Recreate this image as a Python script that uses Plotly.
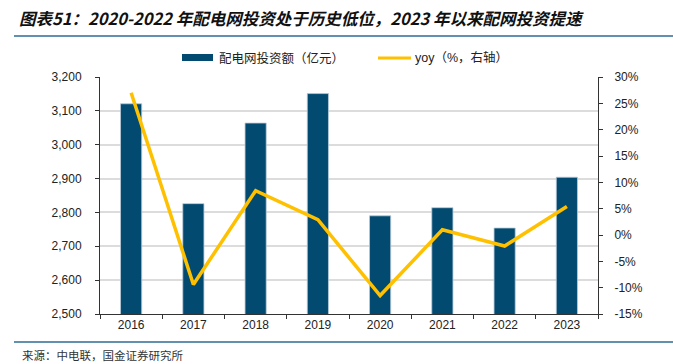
import plotly.graph_objects as go

years = ["2016", "2017", "2018", "2019", "2020", "2021", "2022", "2023"]
invest = [3121, 2826, 3064, 3151, 2790, 2814, 2754, 2904]
yoy = [27.0, -9.4, 8.4, 2.9, -11.5, 1.0, -2.1, 5.4]
left_ticks = [2500, 2600, 2700, 2800, 2900, 3000, 3100, 3200]
right_ticks = [-15, -10, -5, 0, 5, 10, 15, 20, 25, 30]
right_labels = [f"{v}%" for v in right_ticks]
left_labels = [f"{v:,}" for v in left_ticks]

BLUE = "#024a70"
GOLD = "#ffc000"
TXT = "#222222"
FONT = "Liberation Sans, Arial, Noto Sans CJK SC"
CJK = "Noto Sans CJK SC"

# plot area in pixels: x 100..598, y 77..314
L, R, T, B = 100, 598, 77, 314
W, H = R - L, B - T


def px(x):
    return (x - L) / W


def py(y):
    return (B - y) / H


fig = go.Figure()
fig.add_trace(go.Bar(
    x=years, y=invest, name="配电网投资额（亿元）",
    marker=dict(color=BLUE, line=dict(color="#b7cad8", width=0.8)),
    width=0.34, yaxis="y", showlegend=False,
))
fig.add_trace(go.Scatter(
    x=years, y=yoy, name="yoy（%，右轴）", mode="lines",
    line=dict(color=GOLD, width=3.5), yaxis="y2", showlegend=False,
))

fig.update_layout(
    width=673, height=364,
    margin=dict(l=L, r=673 - R, t=T, b=364 - B),
    paper_bgcolor="white", plot_bgcolor="white",
    font=dict(family=FONT, size=12, color=TXT),
    showlegend=False,
    title=dict(
        text="图表51：2020-2022 年配电网投资处于历史低位，2023 年以来配网投资提速",
        x=19 / 673, xanchor="left", y=1 - 19 / 364, yanchor="middle",
        font=dict(family=CJK, size=16.5, color="#111111", weight="bold", style="italic"),
    ),
    xaxis=dict(
        type="category", showline=True, linecolor="#333333", linewidth=1,
        ticks="outside", tickson="boundaries", ticklen=4, tickcolor="#333333",
        showgrid=False, tickfont=dict(size=12, color=TXT),
    ),
    yaxis=dict(
        range=[2500, 3200], tickvals=left_ticks, ticktext=left_labels,
        showline=True, linecolor="#333333", linewidth=1,
        ticks="outside", ticklen=4, tickcolor="#333333",
        showgrid=True, gridcolor="#dcdcdc", gridwidth=1.5, zeroline=False,
        tickfont=dict(size=12, color=TXT), ticklabelstandoff=11,
    ),
    yaxis2=dict(
        range=[-15, 30], tickvals=right_ticks, ticktext=right_labels,
        overlaying="y", side="right",
        showline=True, linecolor="#333333", linewidth=1,
        ticks="outside", ticklen=4, tickcolor="#333333",
        showgrid=False, zeroline=False,
        tickfont=dict(size=12, color=TXT), ticklabelstandoff=9,
    ),
    shapes=[
        dict(type="line", xref="paper", yref="paper", x0=px(14), x1=px(673),
             y0=py(36), y1=py(36), line=dict(color="#2e6d96", width=1.5)),
        dict(type="line", xref="paper", yref="paper", x0=px(14), x1=px(673),
             y0=py(342), y1=py(342), line=dict(color="#2e6d96", width=1.5)),
        # legend symbols
        dict(type="rect", xref="paper", yref="paper", x0=px(182), x1=px(213),
             y0=py(61), y1=py(54), fillcolor=BLUE, line=dict(width=0)),
        dict(type="line", xref="paper", yref="paper", x0=px(378), x1=px(411),
             y0=py(58), y1=py(58), line=dict(color=GOLD, width=3)),
    ],
    annotations=[
        dict(text="配电网投资额（亿元）", xref="paper", yref="paper",
             x=px(217), y=py(57.5), xanchor="left", yanchor="middle", showarrow=False,
             font=dict(family=CJK, size=12.5, color=TXT)),
        dict(text="yoy（%，右轴）", xref="paper", yref="paper",
             x=px(413), y=py(57.5), xanchor="left", yanchor="middle", showarrow=False,
             font=dict(family="Liberation Sans, " + CJK, size=12.5, color=TXT)),
        dict(text="来源：中电联，国金证券研究所", xref="paper", yref="paper",
             x=px(20), y=py(355), xanchor="left", yanchor="middle", showarrow=False,
             font=dict(family=CJK, size=11.5, color="#333333")),
    ],
)

fig.write_html("out.html", config={"displayModeBar": False},
               post_script="document.body.style.margin='0';")
